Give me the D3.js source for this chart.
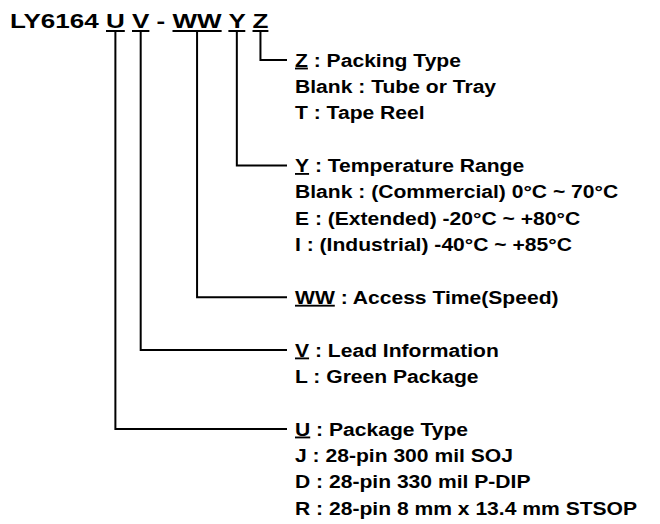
<!DOCTYPE html>
<html>
<head>
  <meta charset="utf-8">
  <script src="https://d3js.org/d3.v7.min.js"></script>
  <style>
    body { margin: 0; background: #fff; }
    text { font-family: "Liberation Sans", Arial, sans-serif; font-weight: bold; fill: #000; }
    .link { fill: none; stroke: #000; stroke-width: 2px; }
  </style>
</head>
<body>
<div id="chart"></div>
<script>
// part number pieces, in the order they appear in the title
var partPrefix = "LY6164";
var fieldKeys = ["U", "V", "WW", "Y", "Z"];
var separators = [" ", " ", " - ", " ", " "];

// descriptions, same order as fieldKeys
var fieldNames = ["Package Type", "Lead Information", "Access Time(Speed)", "Temperature Range", "Packing Type"];
var fieldOptions = [
  ["J : 28-pin 300 mil SOJ", "D : 28-pin 330 mil P-DIP", "R : 28-pin 8 mm x 13.4 mm STSOP"],
  ["L : Green Package"],
  [],
  ["Blank : (Commercial) 0\u00b0C ~ 70\u00b0C", "E : (Extended) -20\u00b0C ~ +80\u00b0C", "I : (Industrial) -40\u00b0C ~ +85\u00b0C"],
  ["Blank : Tube or Tray", "T : Tape Reel"]
];

var width = 660, height = 524;
var titleSx = 1.24, labelSx = 1.14;   // the source text is drawn a bit wide
var titleX = 10, titleY = 28, titleSize = 21;
var labelX = 295, labelSize = 18.5, lineEnd = 287;

var svg = d3.select('#chart').append('svg')
  .attr('width', width)
  .attr('height', height);

// ---- title with underlined codes
var titleG = svg.append('g')
  .attr('transform', 'translate(' + titleX + ',' + titleY + ') scale(' + titleSx + ',1)');

var title = titleG.append('text')
  .attr('x', 0).attr('y', 0)
  .style('font-size', titleSize + 'px');

var str = partPrefix, spans = [];
fieldKeys.forEach(function(k, i) {
  str += separators[i];
  spans.push({key: k, start: str.length, n: k.length});
  str += k;
});
title.text(str);

var tnode = title.node();
spans.forEach(function(s) {
  var a = tnode.getStartPositionOfChar(s.start).x;
  var b = tnode.getEndPositionOfChar(s.start + s.n - 1).x;
  s.x0 = titleX + a * titleSx;
  s.x1 = titleX + b * titleSx;
  s.cx = (s.x0 + s.x1) / 2;
});

// underline under each code
svg.selectAll('.uline')
  .data(spans)
  .enter().append('line')
  .attr('class', 'link')
  .attr('x1', function(d) { return d.x0; })
  .attr('x2', function(d) { return d.x1; })
  .attr('y1', titleY + 3)
  .attr('y2', titleY + 3);

// ---- rows: groups listed bottom-up by key order, one blank row between groups
var groups = fieldKeys.map(function(k, i) {
  return {key: k, name: fieldNames[i], options: fieldOptions[i], x: spans[i].cx};
}).reverse();

var row = 0;
groups.forEach(function(g) {
  g.row = row;
  row += 1 + g.options.length + 1;
});
var lastRow = row - 2;

var y = d3.scaleLinear()
  .domain([0, lastRow])
  .range([60, 508]);

// connector lines
svg.selectAll('.conn')
  .data(groups)
  .enter().append('path')
  .attr('class', 'link')
  .attr('d', function(d) {
    return 'M' + d.x + ',' + (titleY + 3) + 'V' + y(d.row) + 'H' + lineEnd;
  });

// labels
groups.forEach(function(g) {
  var lg = svg.append('g')
    .attr('transform', 'translate(' + labelX + ',0) scale(' + labelSx + ',1)');

  var head = lg.append('text')
    .attr('x', 0)
    .attr('y', y(g.row))
    .attr('dy', '0.36em')
    .style('font-size', labelSize + 'px');
  head.append('tspan')
    .style('text-decoration', 'underline')
    .text(g.key);
  head.append('tspan').text(' : ' + g.name);

  lg.selectAll('.opt')
    .data(g.options)
    .enter().append('text')
    .attr('x', 0)
    .attr('y', function(d, i) { return y(g.row + 1 + i); })
    .attr('dy', '0.36em')
    .style('font-size', labelSize + 'px')
    .text(function(d) { return d; });
});
</script>
</body>
</html>
